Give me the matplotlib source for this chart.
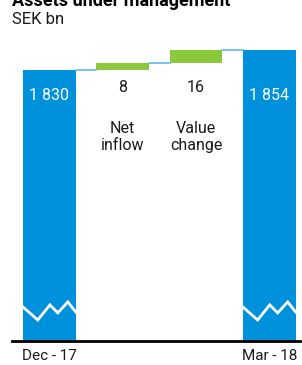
import matplotlib.pyplot as plt

# data
categories = ['Dec - 17', '', '', 'Mar - 18']
labels = ['1 830', '8', '16', '1 854']
names = ['', 'Net\ninflow', 'Value\nchange', '']
start_value = 1830
changes = [8, 16]
end_value = 1854

blue = '#0091DC'
green = '#8CC83C'
link = '#5DB9EE'

plt.rcParams['font.family'] = ['Roboto', 'DejaVu Sans']

fig = plt.figure(figsize=(3.02, 3.65), dpi=100)
ax = fig.add_axes([12 / 302, 24 / 365, 288 / 302, 296 / 365])
ymin, ymax = 1505, 1860
ax.set_ylim(ymin, ymax)
ax.set_xlim(-0.51, 3.42)

w = 0.72
x = list(range(4))

# totals
ax.bar(x[0], start_value - ymin, bottom=ymin, width=w, color=blue)
ax.bar(x[3], end_value - ymin, bottom=ymin, width=w, color=blue)

# changes
bases = [start_value, start_value + changes[0]]
for i, (b, c) in enumerate(zip(bases, changes)):
    ax.bar(x[i + 1], c, bottom=b, width=w, color=green)

# connectors
levels = [start_value, start_value + changes[0], end_value]
for i, lv in enumerate(levels):
    ax.plot([x[i] + w / 2, x[i + 1] - w / 2], [lv, lv], color=link, lw=1.2)

# break zigzag on the total bars
fx = [0, 0.28, 0.51, 0.66, 0.85, 1.0]
fy = [0.115, 0.071, 0.122, 0.095, 0.132, 0.098]
for xi in (x[0], x[3]):
    xs = [xi - w / 2 + f * w for f in fx]
    ys = [ymin + f * (ymax - ymin) for f in fy]
    ax.plot(xs, ys, color='white', lw=2, solid_joinstyle='miter')

# value labels
ax.text(x[0], start_value - 30, labels[0], color='white', ha='center', va='center',
        fontsize=11.5)
ax.text(x[3], start_value - 30, labels[3], color='white', ha='center', va='center',
        fontsize=11.5)
ax.text(x[1], start_value - 21, labels[1], color='#1a1a1a', ha='center', va='center',
        fontsize=11.5)
ax.text(x[2], start_value - 21, labels[2], color='#1a1a1a', ha='center', va='center',
        fontsize=11.5)
for i in (1, 2):
    ax.text(x[i], start_value - 80, names[i], color='#1a1a1a', ha='center', va='center',
            fontsize=11.5, linespacing=1.2)

ax.set_xticks(x)
ax.set_xticklabels(categories, fontsize=11, color='#1a1a1a')
ax.tick_params(axis='x', length=0, pad=6)
ax.set_yticks([])
for s in ['top', 'left', 'right']:
    ax.spines[s].set_visible(False)
ax.spines['bottom'].set_linewidth(2)
ax.spines['bottom'].set_color('black')

fig.text(12 / 302, 1 - 1 / 365, 'Assets under management', fontsize=13,
         fontweight='bold', va='center', ha='left')
fig.text(12 / 302, 1 - 20 / 365, 'SEK bn', fontsize=12, va='center', ha='left',
         color='#1a1a1a')

fig.savefig('out.png', dpi=100)
